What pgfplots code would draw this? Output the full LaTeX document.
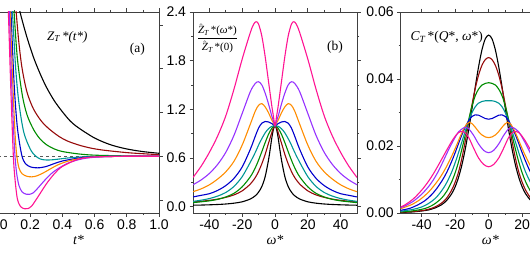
\documentclass[border=0pt]{standalone}
\usepackage{fontspec}
\setmainfont{Liberation Sans}
\newfontfamily\tm{Liberation Serif}
\usepackage{pgfplots}
\pgfplotsset{compat=1.18}
\definecolor{cK}{RGB}{0,0,0}
\definecolor{cR}{RGB}{150,10,10}
\definecolor{cG}{RGB}{0,140,0}
\definecolor{cT}{RGB}{0,150,150}
\definecolor{cB}{RGB}{0,0,205}
\definecolor{cO}{RGB}{255,140,0}
\definecolor{cV}{RGB}{150,50,255}
\definecolor{cP}{RGB}{255,20,147}
\pgfplotsset{
 panel/.style={scale only axis, height=201pt,
  axis line style={black!75, line width=0.8pt},
  tick style={black!75, line width=0.7pt},
  tick align=outside, major tick length=3.5pt, minor tick length=2pt,
  ticklabel style={font=\fontsize{14}{16}\selectfont},
  scaled ticks=false,
  xlabel style={font=\fontsize{14}{16}\selectfont\tm\itshape, at={(axis description cs:0.5,-0.134)}, anchor=center},
  every axis plot/.append style={line width=1.1pt, smooth},
  clip=true},
}
\begin{document}
\begin{tikzpicture}
\useasboundingbox (0pt,0pt) rectangle (530pt,255pt);
\clip (0pt,0pt) rectangle (530pt,255pt);
% ---------------- panel (a)
\begin{axis}[panel, at={(-2pt,42pt)}, anchor=south west, width=161pt,
 xmin=0, xmax=1, ymin=-0.178, ymax=2.578,
 xtick={0,0.2,0.4,0.6,0.8,1}, xticklabels={0.0,0.2,0.4,0.6,0.8,1.0}, minor x tick num=1,
 ytick={0,0.6,1.2,1.8,2.4}, yticklabels={},
 xlabel={t*}]
\addplot[black!65, dashed, line width=0.9pt, sharp plot, dash pattern=on 3pt off 3pt] coordinates {(0,0.6) (1,0.6)};
\addplot[cK] coordinates {(0.09,3.05) (0.11,2.83) (0.13,2.64) (0.15,2.465) (0.18,2.23) (0.22,1.96) (0.26,1.74) (0.3,1.55) (0.35,1.36) (0.4,1.21) (0.45,1.08) (0.5,0.99) (0.6,0.85) (0.7,0.757) (0.8,0.70) (0.9,0.664) (1.0,0.641)};
\addplot[cR] coordinates {(0.09,3.2) (0.112,2.6) (0.13,2.15) (0.15,1.8) (0.18,1.48) (0.22,1.25) (0.27,1.08) (0.32,0.97) (0.38,0.87) (0.43,0.81) (0.5,0.755) (0.57,0.715) (0.65,0.685) (0.8,0.65) (0.9,0.635) (1.0,0.622)};
\addplot[cG] coordinates {(0.08,3.2) (0.099,2.6) (0.12,1.95) (0.15,1.45) (0.18,1.17) (0.22,0.97) (0.26,0.84) (0.3,0.76) (0.35,0.7) (0.4,0.665) (0.5,0.632) (0.6,0.615) (0.8,0.605) (1.0,0.601)};
\addplot[cT] coordinates {(0.072,3.2) (0.089,2.6) (0.11,1.8) (0.13,1.33) (0.16,0.93) (0.2,0.7) (0.23,0.61) (0.26,0.565) (0.29,0.55) (0.33,0.55) (0.38,0.562) (0.45,0.58) (0.55,0.594) (0.7,0.6) (1.0,0.6)};
\addplot[cB] coordinates {(0.066,3.2) (0.08,2.6) (0.1,1.6) (0.12,1.0) (0.147,0.62) (0.17,0.5) (0.2,0.455) (0.23,0.443) (0.26,0.443) (0.3,0.46) (0.35,0.5) (0.4,0.535) (0.5,0.575) (0.6,0.592) (0.8,0.6) (1.0,0.6)};
\addplot[cO] coordinates {(0.062,3.2) (0.075,2.6) (0.09,1.7) (0.105,0.95) (0.116,0.62) (0.13,0.44) (0.15,0.36) (0.18,0.325) (0.21,0.318) (0.24,0.33) (0.28,0.37) (0.32,0.42) (0.37,0.48) (0.43,0.53) (0.5,0.565) (0.6,0.59) (0.8,0.6) (1.0,0.6)};
\addplot[cV] coordinates {(0.058,3.2) (0.07,2.6) (0.085,1.6) (0.097,0.95) (0.105,0.62) (0.115,0.38) (0.13,0.2) (0.15,0.11) (0.175,0.08) (0.195,0.078) (0.22,0.1) (0.25,0.17) (0.29,0.27) (0.33,0.36) (0.38,0.44) (0.45,0.52) (0.55,0.575) (0.7,0.597) (1.0,0.6)};
\addplot[cP] coordinates {(0.053,3.2) (0.064,2.6) (0.08,1.5) (0.095,0.62) (0.105,0.3) (0.12,0.02) (0.14,-0.09) (0.165,-0.12) (0.185,-0.118) (0.21,-0.08) (0.25,0.05) (0.3,0.22) (0.35,0.36) (0.4,0.46) (0.5,0.56) (0.6,0.59) (0.8,0.6) (1.0,0.6)};
\node[font=\fontsize{13}{15}\selectfont\tm] at (axis description cs:0.43,0.876) {\itshape Z\textsubscript{\itshape T}\,*(t*)};
\node[font=\fontsize{13.5}{15}\selectfont\tm] at (axis description cs:0.866,0.813) {(a)};
\end{axis}
% ---------------- panel (b)
\begin{axis}[panel, at={(193pt,42pt)}, anchor=south west, width=164pt,
 xmin=-50, xmax=50, ymin=-0.078, ymax=2.4,
 xtick={-40,-20,0,20,40}, xticklabels={-40,-20,0,20,40}, minor x tick num=1,
 ytick={0,0.6,1.2,1.8,2.4}, yticklabels={0.0,0.6,1.2,1.8,2.4}, minor y tick num=1,
 xlabel={\char"03C9*}]
\addplot[cK] coordinates {(-50,0.018) (-45,0.02) (-40,0.023) (-35,0.027) (-30,0.033) (-25,0.043) (-20,0.06) (-15,0.095) (-12,0.135) (-10,0.18) (-8,0.25) (-6,0.37) (-4,0.57) (-3,0.70) (-2,0.84) (-1,0.95) (0,1) (1,0.95) (2,0.84) (3,0.70) (4,0.57) (6,0.37) (8,0.25) (10,0.18) (12,0.135) (15,0.095) (20,0.06) (25,0.043) (30,0.033) (35,0.027) (40,0.023) (45,0.02) (50,0.018)};
\addplot[cR] coordinates {(-50,0.058) (-45,0.067) (-40,0.078) (-35,0.093) (-30,0.115) (-25,0.145) (-20,0.195) (-15,0.28) (-12,0.36) (-10,0.435) (-8,0.53) (-6,0.645) (-4,0.78) (-2,0.91) (-1,0.97) (0,1) (1,0.97) (2,0.91) (4,0.78) (6,0.645) (8,0.53) (10,0.435) (12,0.36) (15,0.28) (20,0.195) (25,0.145) (30,0.115) (35,0.093) (40,0.078) (45,0.067) (50,0.058)};
\addplot[cG] coordinates {(-50,0.05) (-45,0.06) (-40,0.072) (-35,0.09) (-30,0.12) (-25,0.165) (-20,0.245) (-15,0.37) (-12,0.48) (-10,0.575) (-8,0.68) (-6,0.79) (-4,0.89) (-2,0.965) (0,1) (2,0.965) (4,0.89) (6,0.79) (8,0.68) (10,0.575) (12,0.48) (15,0.37) (20,0.245) (25,0.165) (30,0.12) (35,0.09) (40,0.072) (45,0.06) (50,0.05)};
\addplot[cT] coordinates {(-50,0.065) (-45,0.08) (-40,0.10) (-35,0.13) (-30,0.175) (-25,0.25) (-20,0.37) (-15,0.55) (-12,0.67) (-10,0.76) (-8,0.84) (-6,0.91) (-4,0.96) (-2,0.99) (0,1) (2,0.99) (4,0.96) (6,0.91) (8,0.84) (10,0.76) (12,0.67) (15,0.55) (20,0.37) (25,0.25) (30,0.175) (35,0.13) (40,0.10) (45,0.08) (50,0.065)};
\addplot[cB] coordinates {(-50,0.12) (-45,0.14) (-40,0.16) (-35,0.20) (-30,0.26) (-25,0.35) (-20,0.49) (-15,0.71) (-12,0.87) (-10,0.97) (-8,1.03) (-6,1.05) (-4,1.045) (-2,1.025) (0,1) (2,1.025) (4,1.045) (6,1.05) (8,1.03) (10,0.97) (12,0.87) (15,0.71) (20,0.49) (25,0.35) (30,0.26) (35,0.20) (40,0.16) (45,0.14) (50,0.12)};
\addplot[cO] coordinates {(-50,0.185) (-45,0.22) (-40,0.27) (-35,0.34) (-30,0.43) (-25,0.56) (-20,0.76) (-15,1.02) (-12,1.18) (-10,1.25) (-8,1.27) (-6,1.23) (-4,1.16) (-2,1.07) (-1,1.035) (0,1) (1,1.035) (2,1.07) (4,1.16) (6,1.23) (8,1.27) (10,1.25) (12,1.18) (15,1.02) (20,0.76) (25,0.56) (30,0.43) (35,0.34) (40,0.27) (45,0.22) (50,0.185)};
\addplot[cV] coordinates {(-50,0.27) (-45,0.33) (-40,0.41) (-35,0.52) (-30,0.67) (-25,0.88) (-20,1.15) (-15,1.42) (-12,1.52) (-10,1.54) (-8,1.50) (-6,1.40) (-4,1.27) (-2,1.12) (-1,1.06) (0,1) (1,1.06) (2,1.12) (4,1.27) (6,1.40) (8,1.50) (10,1.54) (12,1.52) (15,1.42) (20,1.15) (25,0.88) (30,0.67) (35,0.52) (40,0.41) (45,0.33) (50,0.27)};
\addplot[cP] coordinates {(-50,0.36) (-45,0.50) (-40,0.67) (-35,0.87) (-30,1.12) (-25,1.45) (-20,1.82) (-15,2.15) (-13,2.25) (-11.5,2.28) (-10,2.25) (-8,2.10) (-6,1.85) (-4,1.55) (-2,1.25) (-1,1.12) (0,1) (1,1.12) (2,1.25) (4,1.55) (6,1.85) (8,2.10) (10,2.25) (11.5,2.28) (13,2.25) (15,2.15) (20,1.82) (25,1.45) (30,1.12) (35,0.87) (40,0.67) (45,0.50) (50,0.36)};
\node[font=\fontsize{11}{12}\selectfont\tm, inner sep=0pt] at (axis description cs:0.149,0.865) {\begin{tabular}{@{}c@{}}$\hat{\hbox{\itshape Z}}$\textsubscript{\itshape T}\,*(\itshape\char"03C9\upshape*)\\[1pt]\hline\rule{0pt}{12pt}$\hat{\hbox{\itshape Z}}$\textsubscript{\itshape T}\,*(0)\end{tabular}};
\node[font=\fontsize{13.5}{15}\selectfont\tm] at (axis description cs:0.866,0.826) {(b)};
\end{axis}
% ---------------- panel (c)
\begin{axis}[panel, at={(400.7pt,42pt)}, anchor=south west, width=175.9pt,
 xmin=-52.5, xmax=52.5, ymin=0, ymax=0.06,
 xtick={-40,-20,0,20,40}, xticklabels={-40,-20,0,20,40}, minor x tick num=1,
 ytick={0,0.02,0.04,0.06}, yticklabels={0.00,0.02,0.04,0.06}, minor y tick num=1,
 xlabel={\char"03C9*}, xlabel style={at={(axis description cs:0.51,-0.134)}}]
\addplot[cK] coordinates {(-52.5,0.0002) (-46,0.0003) (-40,0.0006) (-36,0.0009) (-32,0.0015) (-28,0.0025) (-25,0.0038) (-22,0.0058) (-20,0.0078) (-18,0.0106) (-16,0.0143) (-14,0.0190) (-12,0.0246) (-10,0.0310) (-8,0.0376) (-6,0.0437) (-4,0.0487) (-2,0.0520) (0,0.0531) (2,0.0520) (4,0.0487) (6,0.0437) (8,0.0376) (10,0.0310) (12,0.0246) (14,0.0190) (16,0.0143) (18,0.0106) (20,0.0078) (22,0.0058) (25,0.0038) (28,0.0025) (32,0.0015) (36,0.0009) (40,0.0006) (46,0.0003) (52.5,0.0002)};
\addplot[cR] coordinates {(-52.5,0.0002) (-46,0.0004) (-40,0.0007) (-36,0.0011) (-32,0.0018) (-28,0.0030) (-25,0.0045) (-22,0.0069) (-20,0.0092) (-18,0.0122) (-16,0.0163) (-14,0.0213) (-12,0.0268) (-10,0.0322) (-8,0.0372) (-6,0.0412) (-4,0.0441) (-2,0.0458) (0,0.0464) (2,0.0458) (4,0.0441) (6,0.0412) (8,0.0372) (10,0.0322) (12,0.0268) (14,0.0213) (16,0.0163) (18,0.0122) (20,0.0092) (22,0.0069) (25,0.0045) (28,0.0030) (32,0.0018) (36,0.0011) (40,0.0007) (46,0.0004) (52.5,0.0002)};
\addplot[cG] coordinates {(-52.5,0.0003) (-46,0.0006) (-40,0.0011) (-36,0.0017) (-32,0.0028) (-28,0.0045) (-25,0.0065) (-22,0.0094) (-20,0.0120) (-18,0.0152) (-16,0.0190) (-14,0.0232) (-12,0.0277) (-10,0.0318) (-8,0.0350) (-6,0.0370) (-4,0.0382) (-2,0.0387) (0,0.0389) (2,0.0387) (4,0.0382) (6,0.0370) (8,0.0350) (10,0.0318) (12,0.0277) (14,0.0232) (16,0.0190) (18,0.0152) (20,0.0120) (22,0.0094) (25,0.0065) (28,0.0045) (32,0.0028) (36,0.0017) (40,0.0011) (46,0.0006) (52.5,0.0003)};
\addplot[cT] coordinates {(-52.5,0.0005) (-45,0.0011) (-40,0.0018) (-36,0.0028) (-32,0.0043) (-29,0.0060) (-26,0.0082) (-24,0.0101) (-22,0.0123) (-20,0.0150) (-18,0.0180) (-16,0.0212) (-14,0.0244) (-12,0.0274) (-10,0.0299) (-8,0.0317) (-6,0.0328) (-4,0.0333) (-2,0.0335) (0,0.0335) (2,0.0335) (4,0.0333) (6,0.0328) (8,0.0317) (10,0.0299) (12,0.0274) (14,0.0244) (16,0.0212) (18,0.0180) (20,0.0150) (22,0.0123) (24,0.0101) (26,0.0082) (29,0.0060) (32,0.0043) (36,0.0028) (40,0.0018) (45,0.0011) (52.5,0.0005)};
\addplot[cB] coordinates {(-52.5,0.0008) (-47,0.0014) (-42,0.0025) (-38,0.0037) (-34,0.0055) (-31,0.0073) (-28,0.0095) (-26,0.0112) (-24,0.0132) (-22,0.0155) (-20,0.0180) (-18,0.0207) (-16,0.0233) (-14,0.0256) (-12,0.0275) (-10,0.0288) (-8,0.0293) (-6,0.0292) (-4,0.0287) (-2,0.0282) (0,0.0280) (2,0.0282) (4,0.0287) (6,0.0292) (8,0.0293) (10,0.0288) (12,0.0275) (14,0.0256) (16,0.0233) (18,0.0207) (20,0.0180) (22,0.0155) (24,0.0132) (26,0.0112) (28,0.0095) (31,0.0073) (34,0.0055) (38,0.0037) (42,0.0025) (47,0.0014) (52.5,0.0008)};
\addplot[cO] coordinates {(-52.5,0.0013) (-46,0.0025) (-41,0.0040) (-37,0.0057) (-34,0.0073) (-31,0.0092) (-29,0.0106) (-27,0.0122) (-25,0.0140) (-23,0.0160) (-21,0.0181) (-19,0.0204) (-17,0.0228) (-15,0.0250) (-13,0.0266) (-11.5,0.0271) (-10,0.0267) (-8,0.0256) (-6,0.0243) (-4,0.0233) (-2,0.0227) (0,0.0225) (2,0.0227) (4,0.0233) (6,0.0243) (8,0.0256) (10,0.0267) (11.5,0.0271) (13,0.0266) (15,0.0250) (17,0.0228) (19,0.0204) (21,0.0181) (23,0.0160) (25,0.0140) (27,0.0122) (29,0.0106) (31,0.0092) (34,0.0073) (37,0.0057) (41,0.0040) (46,0.0025) (52.5,0.0013)};
\addplot[cV] coordinates {(-52.5,0.0016) (-50,0.0021) (-45,0.0035) (-40,0.0056) (-36,0.0078) (-33,0.0099) (-30,0.0125) (-27,0.0156) (-24,0.0188) (-21,0.0217) (-18,0.0242) (-15,0.0254) (-13.5,0.0256) (-12,0.0252) (-9,0.0232) (-6,0.0206) (-3,0.0187) (0,0.0180) (3,0.0187) (6,0.0206) (9,0.0232) (12,0.0252) (13.5,0.0256) (15,0.0254) (18,0.0242) (21,0.0217) (24,0.0188) (27,0.0156) (30,0.0125) (33,0.0099) (36,0.0078) (40,0.0056) (45,0.0035) (50,0.0021) (52.5,0.0016)};
\addplot[cP] coordinates {(-52.5,0.0018) (-50,0.0024) (-45,0.0042) (-40,0.0068) (-36,0.0094) (-33,0.0117) (-30,0.0143) (-27,0.0170) (-24,0.0197) (-21,0.0222) (-18,0.0240) (-15,0.0243) (-12,0.0226) (-9,0.0194) (-6,0.0164) (-3,0.0145) (0,0.0138) (3,0.0145) (6,0.0164) (9,0.0194) (12,0.0226) (15,0.0243) (18,0.0240) (21,0.0222) (24,0.0197) (27,0.0170) (30,0.0143) (33,0.0117) (36,0.0094) (40,0.0068) (45,0.0042) (50,0.0024) (52.5,0.0018)};
\node[font=\fontsize{13.5}{15}\selectfont\tm, anchor=west] at (axis description cs:0.036,0.876) {\itshape C\textsubscript{\itshape T}\,\upshape*(\itshape Q\upshape*, \itshape\char"03C9\upshape*)};
\end{axis}
\end{tikzpicture}
\end{document}
